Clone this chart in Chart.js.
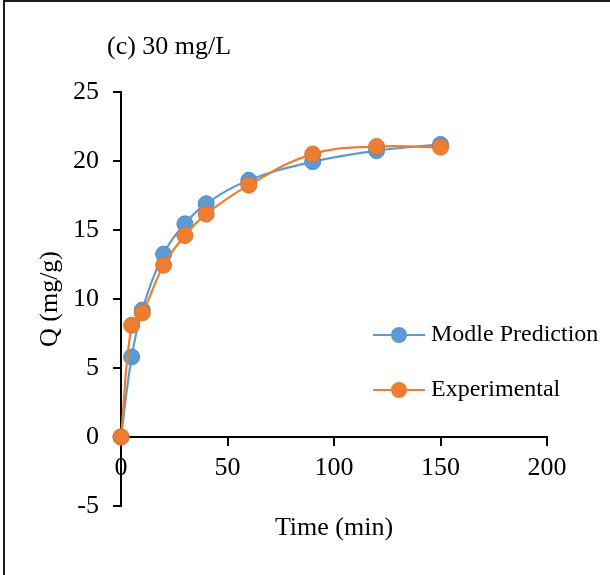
<!DOCTYPE html>
<html lang="en">
<head>
    <meta charset="UTF-8">
    <title>Q vs time, 30 mg/L</title>
    <script src="https://cdn.jsdelivr.net/npm/chart.js/dist/chart.umd.min.js"></script>
    <style>
        body {
            margin: 0;
            padding: 0;
            background-color: #fff;
        }

        .frame {
            position: absolute;
            left: 3px;
            top: 0;
            width: 607px;
            height: 575px;
            box-sizing: border-box;
            border-top: 2px solid #1a1a1a;
            border-left: 2px solid #1a1a1a;
        }

        #chart-container {
            position: absolute;
            left: 0;
            top: 0;
            width: 610px;
            height: 575px;
        }
    </style>
</head>
<body>
  <div class="frame"></div>
  <div id="chart-container">
      <canvas id="kineticsChart" width="610" height="575"></canvas>
  </div>

  <script>
    // time (min) and uptake Q (mg/g)
    const times = [0, 5, 10, 20, 30, 40, 60, 90, 120, 150];
    const modelQ = [0, 5.8, 9.2, 13.25, 15.45, 16.9, 18.6, 19.95, 20.75, 21.2];
    const experimentalQ = [0, 8.1, 9.0, 12.45, 14.6, 16.15, 18.25, 20.5, 21.05, 21.0];
    const seriesNames = ['Modle Prediction', 'Experimental'];
    const xTicks = [0, 50, 100, 150, 200];
    const yTicks = [-5, 0, 5, 10, 15, 20, 25];

    const panelTitle = '(c) 30 mg/L';
    const xTitle = 'Time (min)';
    const yTitle = 'Q (mg/g)';

    const FONT = "'Liberation Serif', 'Times New Roman', serif";
    const BLUE = '#5b9bd5';
    const ORANGE = '#ed7d31';

    const toPoints = (ys) => times.map((t, i) => ({ x: t, y: ys[i] }));

    // panel label, x title and the small legend inside the plot
    const annotations = {
      id: 'annotations',
      afterDraw(chart) {
        const { ctx, chartArea } = chart;
        ctx.save();
        ctx.font = '26px ' + FONT;
        ctx.fillStyle = '#000';
        ctx.textBaseline = 'middle';

        ctx.textAlign = 'left';
        ctx.fillText(panelTitle, 107, 47);

        ctx.textAlign = 'center';
        ctx.fillText(xTitle, (chartArea.left + chartArea.right) / 2, 528);

        // legend entries
        ctx.font = '24px ' + FONT;
        const rows = [335, 390];
        chart.data.datasets.forEach((ds, i) => {
          const y = rows[i];
          ctx.beginPath();
          ctx.moveTo(373, y);
          ctx.lineTo(425, y);
          ctx.strokeStyle = ds.borderColor;
          ctx.lineWidth = 2;
          ctx.stroke();

          ctx.beginPath();
          ctx.arc(399, y, 8, 0, Math.PI * 2);
          ctx.fillStyle = ds.pointBackgroundColor;
          ctx.fill();

          ctx.fillStyle = '#000';
          ctx.textAlign = 'left';
          ctx.fillText(ds.label, 431, y);
        });
        ctx.restore();
      }
    };

    const data = {
      datasets: [
        {
          label: seriesNames[0],
          data: toPoints(modelQ),
          borderColor: BLUE,
          backgroundColor: BLUE,
          pointBackgroundColor: BLUE,
          pointBorderColor: '#4f8dc6',
          order: 1
        },
        {
          label: seriesNames[1],
          data: toPoints(experimentalQ),
          borderColor: ORANGE,
          backgroundColor: ORANGE,
          pointBackgroundColor: ORANGE,
          pointBorderColor: '#e0712a',
          order: 0
        }
      ]
    };

    const axisLine = { display: true, color: '#000', width: 2 };

    const config = {
      type: 'line',
      data,
      options: {
        responsive: false,
        animation: false,
        layout: {
          padding: { top: 92, right: 63, bottom: 69, left: 0 }
        },
        datasets: {
          line: {
            borderWidth: 2.2,
            tension: 0.4,
            pointRadius: 8,
            pointBorderWidth: 1,
            clip: false
          }
        },
        scales: {
          x: {
            type: 'linear',
            position: { y: 0 },
            min: 0,
            max: 200,
            afterBuildTicks: (scale) => { scale.ticks = xTicks.map(v => ({ value: v })); },
            border: axisLine,
            grid: { drawOnChartArea: false, drawTicks: true, tickLength: 8, color: '#000', lineWidth: 2 },
            ticks: {
              padding: 8,
              color: '#000',
              font: { family: FONT, size: 26 },
              maxRotation: 0
            }
          },
          y: {
            type: 'linear',
            position: 'left',
            min: -5,
            max: 25,
            afterBuildTicks: (scale) => { scale.ticks = yTicks.map(v => ({ value: v })); },
            afterFit: (scale) => { scale.width = 121; },
            border: axisLine,
            grid: { drawOnChartArea: false, drawTicks: true, tickLength: 8, color: '#000', lineWidth: 2 },
            ticks: {
              padding: 14,
              color: '#000',
              font: { family: FONT, size: 26 }
            },
            title: {
              display: true,
              text: yTitle,
              color: '#000',
              font: { family: FONT, size: 26 },
              padding: { top: 35, bottom: 0 }
            }
          }
        },
        plugins: {
          legend: { display: false },
          tooltip: { enabled: false }
        }
      },
      plugins: [annotations]
    };

    const kineticsChart = new Chart(
      document.getElementById('kineticsChart'),
      config
    );
  </script>
</body>
</html>
